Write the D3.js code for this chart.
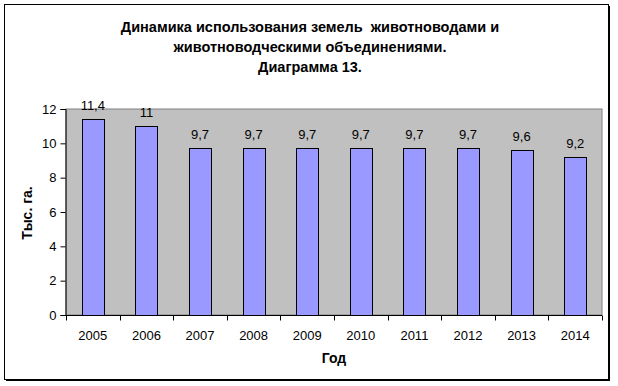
<!DOCTYPE html>
<html>
<head>
<meta charset="utf-8">
<script src="https://cdn.jsdelivr.net/npm/d3@7"></script>
<style>
  body { margin: 0; background: #fff; }
  text { font-family: "Liberation Sans", Arial, sans-serif; }
</style>
</head>
<body>
<div id="chart"></div>
<script>
// chart data
const years = ['2005', '2006', '2007', '2008', '2009', '2010', '2011', '2012', '2013', '2014'];
const values = [11.4, 11, 9.7, 9.7, 9.7, 9.7, 9.7, 9.7, 9.6, 9.2];
const yTicks = [0, 2, 4, 6, 8, 10, 12];
const titleLines = ['Динамика использования земель  животноводами и', 'животноводческими объединениями.', 'Диаграмма 13.'];

const W = 618, H = 386;
const margin = { top: 109, right: 16, bottom: 71, left: 66 };
const width = W - margin.left - margin.right;
const height = H - margin.top - margin.bottom;

const svg = d3.select('#chart').append('svg')
    .attr('width', W)
    .attr('height', H);

// outer frame with a small shadow
svg.append('rect')
    .attr('x', 6).attr('y', 6).attr('width', 604).attr('height', 375)
    .attr('fill', '#000');
svg.append('rect')
    .attr('x', 4.5).attr('y', 4.5).attr('width', 604).attr('height', 375)
    .attr('fill', '#fff').attr('stroke', '#000').attr('stroke-width', 1);

// title
svg.append('text')
    .attr('x', 310)
    .attr('y', 32)
    .attr('text-anchor', 'middle')
    .style('font-weight', 'bold')
    .style('font-size', '14.5px')
    .style('white-space', 'pre')
    .selectAll('tspan')
    .data(titleLines)
    .join('tspan')
    .attr('x', 310)
    .attr('dy', (d, i) => i === 0 ? 0 : 20)
    .text(d => d);

const g = svg.append('g')
    .attr('transform', `translate(${margin.left},${margin.top})`);

const x = d3.scaleBand()
    .domain(years)
    .range([0, width])
    .paddingInner(0.59)
    .paddingOuter(0.295);

const y = d3.scaleLinear()
    .domain([0, 12])
    .range([height, 0]);

// plot area
g.append('rect')
    .attr('width', width)
    .attr('height', height)
    .attr('fill', '#c0c0c0')
    .attr('stroke', '#808080')
    .attr('stroke-width', 1);

// bars
g.selectAll('.bar')
    .data(values)
    .join('rect')
    .attr('class', 'bar')
    .attr('x', (d, i) => Math.round(x(years[i])) + 0.5)
    .attr('y', d => Math.round(y(d)) + 0.5)
    .attr('width', Math.round(x.bandwidth()))
    .attr('height', d => Math.round(y(0)) - Math.round(y(d)))
    .attr('fill', '#9999ff')
    .attr('stroke', '#000')
    .attr('stroke-width', 1);

// value labels
g.selectAll('.val')
    .data(values)
    .join('text')
    .attr('class', 'val')
    .attr('x', (d, i) => x(years[i]) + x.bandwidth() / 2)
    .attr('y', d => y(d) - 9)
    .attr('text-anchor', 'middle')
    .style('font-size', '13px')
    .text(d => String(d).replace('.', ','));

// y axis
const yAxis = d3.axisLeft(y)
    .tickValues(yTicks)
    .tickSize(5)
    .tickPadding(4)
    .tickFormat(d3.format('d'));
const ya = g.append('g').attr('transform', 'translate(-0.5,0)').call(yAxis);
ya.selectAll('text').style('font-size', '13px').attr('fill', '#000');
ya.selectAll('line, path').attr('stroke', '#000');

// x axis with ticks at category boundaries
const xa = g.append('g').attr('transform', `translate(0,${height + 0.5})`);
xa.append('line')
    .attr('x1', 0).attr('x2', width)
    .attr('stroke', '#000');
xa.selectAll('.tick')
    .data(d3.range(years.length + 1))
    .join('line')
    .attr('class', 'tick')
    .attr('x1', i => Math.round(i * width / years.length) + 0.5)
    .attr('x2', i => Math.round(i * width / years.length) + 0.5)
    .attr('y1', 0).attr('y2', 5)
    .attr('stroke', '#000');
xa.selectAll('.lbl')
    .data(years)
    .join('text')
    .attr('class', 'lbl')
    .attr('x', d => x(d) + x.bandwidth() / 2)
    .attr('y', 24)
    .attr('text-anchor', 'middle')
    .style('font-size', '13px')
    .text(d => d);

// axis titles
svg.append('text')
    .attr('x', margin.left + width / 2)
    .attr('y', 363)
    .attr('text-anchor', 'middle')
    .style('font-weight', 'bold')
    .style('font-size', '14px')
    .text('Год');

svg.append('text')
    .attr('transform', 'translate(32,213) rotate(-90)')
    .attr('text-anchor', 'middle')
    .style('font-weight', 'bold')
    .style('font-size', '14px')
    .text('Тыс. га.');
</script>
</body>
</html>
